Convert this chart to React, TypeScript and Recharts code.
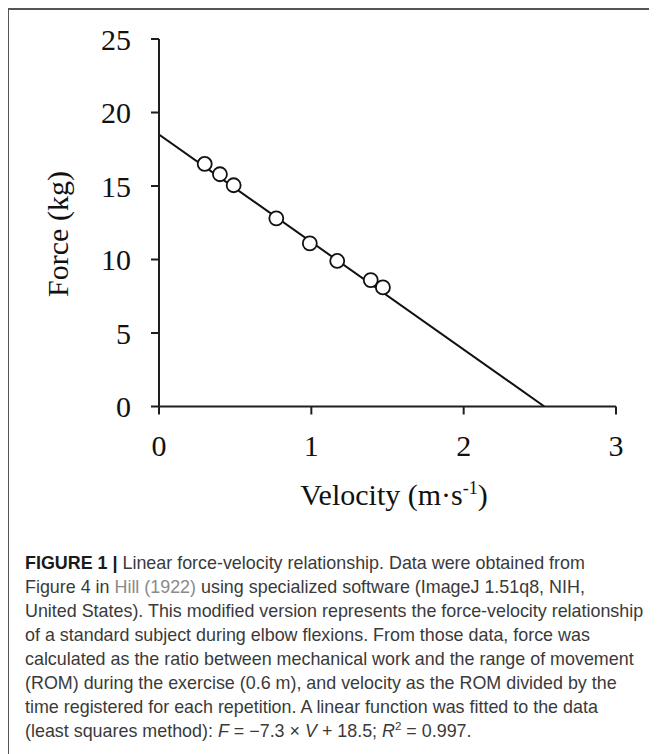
import React from 'react';
import { ComposedChart, Line, Scatter, XAxis, YAxis, Label } from 'recharts';

// Measured data points (velocity in m·s-1, force in kg)
const velocity = [0.30, 0.40, 0.49, 0.77, 0.99, 1.17, 1.39, 1.47];
const force = [16.5, 15.8, 15.05, 12.8, 11.1, 9.9, 8.6, 8.1];
// Fitted line endpoints (F = -7.3 V + 18.5)
const fitVelocity = [0, 2.53];
const fitForce = [18.5, 0];
const xTicks = [0, 1, 2, 3];
const yTicks = [0, 5, 10, 15, 20, 25];

const points = velocity.map((v, i) => ({ v, f: force[i] }));
const fit = fitVelocity.map((v, i) => ({ v, f: fitForce[i] }));

const SERIF = '"Liberation Serif", "Times New Roman", serif';
const AXIS = '#1e1e1e';

const XTitle = () => (
  <text x={386} y={497} textAnchor="middle" fontFamily={SERIF} fontSize={30} fill="#111">
    Velocity (m·s<tspan dy={-11} fontSize={18}>-1</tspan><tspan dy={11}>)</tspan>
  </text>
);

const YTitle = () => (
  <text x={59.7} y={226} transform="rotate(-90, 59.7, 226)" textAnchor="middle" fontFamily={SERIF} fontSize={30} fill="#111">
    Force (kg)
  </text>
);

const Dot = (props: any) => (
  <circle cx={props.cx} cy={props.cy} r={7} fill="#fff" stroke="#111" strokeWidth={1.8} />
);

const lines = [
  'United States). This modified version represents the force-velocity relationship',
  'of a standard subject during elbow flexions. From those data, force was',
  'calculated as the ratio between mechanical work and the range of movement',
  '(ROM) during the exercise (0.6 m), and velocity as the ROM divided by the',
  'time registered for each repetition. A linear function was fitted to the data',
];

export default function App() {
  return (
    <div style={{ position: 'relative', width: 641, height: 746 }}>
      <style>{`html,body{overflow:hidden}`}</style>
      <div
        style={{
          position: 'absolute',
          left: -1,
          top: 0,
          width: 652,
          height: 760,
          borderLeft: '2px solid #555',
          borderTop: '2px solid #555',
          boxSizing: 'border-box',
        }}
      />
      <div style={{ position: 'absolute', left: 0, top: 0 }}>
        <ComposedChart width={640} height={530} margin={{ top: 31, right: 32, left: 0, bottom: 31.5 }}>
          <XAxis
            type="number"
            dataKey="v"
            domain={[0, 3]}
            ticks={xTicks}
            height={100}
            tickSize={8}
            tickMargin={20}
            axisLine={{ stroke: AXIS, strokeWidth: 2 }}
            tickLine={{ stroke: AXIS, strokeWidth: 2 }}
            tick={{ fontSize: 30, fill: '#111', fontFamily: SERIF }}
            allowDataOverflow
          >
            <Label content={<XTitle />} />
          </XAxis>
          <YAxis
            type="number"
            dataKey="f"
            domain={[0, 25]}
            ticks={yTicks}
            width={151}
            tickSize={8}
            tickMargin={20}
            axisLine={{ stroke: AXIS, strokeWidth: 2 }}
            tickLine={{ stroke: AXIS, strokeWidth: 2 }}
            tick={{ fontSize: 30, fill: '#111', fontFamily: SERIF }}
            allowDataOverflow
          >
            <Label content={<YTitle />} />
          </YAxis>
          <Line
            data={fit}
            dataKey="f"
            type="linear"
            stroke="#111"
            strokeWidth={2}
            dot={false}
            activeDot={false}
            isAnimationActive={false}
          />
          <Scatter data={points} dataKey="f" shape={<Dot />} isAnimationActive={false} />
        </ComposedChart>
      </div>
      <div
        style={{
          position: 'absolute',
          left: 17,
          top: 543,
          fontFamily: '"Liberation Sans", Arial, sans-serif',
          fontSize: 17.9,
          lineHeight: '24px',
          color: '#3a3a3a',
          whiteSpace: 'nowrap',
        }}
      >
        <div>
          <b style={{ color: '#1a1a1a' }}>FIGURE 1 |</b> Linear force-velocity relationship. Data were obtained from
        </div>
        <div>
          Figure 4 in <span style={{ color: '#8a8a8a' }}>Hill (1922)</span> using specialized software (ImageJ 1.51q8, NIH,
        </div>
        {lines.map((t, i) => (
          <div key={i}>{t}</div>
        ))}
        <div>
          (least squares method): <i>F</i> = −7.3 × <i>V</i> + 18.5; <i>R</i>
          <sup style={{ fontSize: 11.5, lineHeight: 0 }}>2</sup> = 0.997.
        </div>
      </div>
    </div>
  );
}
